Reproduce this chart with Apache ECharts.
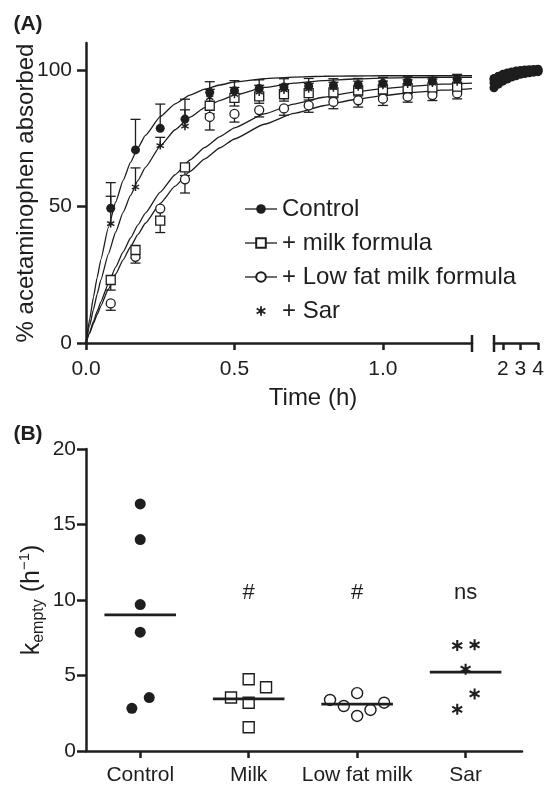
<!DOCTYPE html>
<html><head><meta charset="utf-8">
<script src="https://cdn.jsdelivr.net/npm/echarts@6/dist/echarts.min.js"></script>
<style>html,body{margin:0;padding:0;background:#fff}#c{width:544px;height:786px}</style>
</head><body><div id="c"></div>
<script>
const FONT = '"Liberation Sans", Arial, Helvetica, sans-serif';
const INK = '#1e1e1e';

// ---------- Panel A data ----------
const timesA = [0.0833, 0.1667, 0.25, 0.3333, 0.4167, 0.5, 0.5833, 0.6667, 0.75, 0.8333, 0.9167, 1.0, 1.0833, 1.1667, 1.25];
const controlA = [49.4, 70.8, 78.7, 82.1, 91.9, 92.5, 93.3, 93.9, 94.2, 94.4, 94.7, 95.2, 95.8, 96.0, 96.7];
const controlErr = [9.4, 11.2, 8.9, 7.3, 3.9, 3.7, 3.2, 3.0, 2.8, 2.5, 2.3, 2.2, 2.0, 2.0, 1.8];
const milkA = [23.1, 34.1, 44.9, 64.4, 87.0, 89.9, 90.4, 91.2, 91.6, 91.9, 92.6, 93.0, 93.4, 93.7, 94.0];
const milkErr = [3.7, 3.0, 4.4, 3.0, 3.0, 3.0, 2.5, 2.5, 2.5, 2.0, 2.0, 2.0, 2.0, 2.0, 2.0];
const lowFatA = [14.5, 31.6, 49.3, 60.0, 82.9, 84.0, 85.4, 86.0, 87.1, 88.4, 89.0, 89.6, 90.3, 90.9, 91.5];
const lowFatErr = [2.5, 2.3, 3.0, 5.0, 4.8, 3.0, 2.5, 2.5, 2.5, 2.5, 2.5, 2.5, 2.0, 2.0, 2.0];
const sarA = [43.8, 57.2, 72.4, 79.5, 90.0, 91.2, 92.0, 92.8, 93.2, 93.6, 94.0, 94.5, 95.0, 95.3, 95.8];
const sarErr = [10.0, 7.0, 3.0, 6.0, 3.0, 2.5, 2.5, 2.0, 2.0, 2.0, 2.0, 1.5, 1.5, 1.5, 1.5];

// fitted curves
const fitTimes = [0, 0.0125, 0.025, 0.0375, 0.05, 0.075, 0.1, 0.125, 0.15, 0.175, 0.2, 0.25, 0.3, 0.35, 0.4, 0.45, 0.5, 0.6, 0.7, 0.8, 0.9, 1.0, 1.1, 1.2, 1.3];
const controlFit = [0, 8.8, 16.8, 24.0, 30.6, 42.2, 51.7, 59.6, 66.2, 71.6, 76.1, 83.0, 87.7, 90.9, 93.1, 94.6, 95.7, 96.9, 97.5, 97.8, 97.9, 98.0, 98.0, 98.0, 98.0];
const sarFit = [0, 6.4, 12.3, 17.9, 23.1, 32.5, 40.7, 47.9, 54.1, 59.6, 64.4, 72.2, 78.2, 82.8, 86.3, 88.9, 90.9, 93.7, 95.3, 96.2, 96.8, 97.1, 97.3, 97.4, 97.4];
const milkFit = [0, 4.0, 7.9, 11.6, 15.1, 21.7, 27.8, 33.4, 38.5, 43.3, 47.6, 55.3, 61.7, 67.1, 71.7, 75.6, 78.9, 84.0, 87.6, 90.1, 92.0, 93.3, 94.2, 94.9, 95.3];
const lowFatFit = [0, 3.6, 7.1, 10.4, 13.6, 19.7, 25.3, 30.5, 35.3, 39.8, 43.9, 51.2, 57.5, 62.9, 67.5, 71.5, 74.8, 80.2, 84.2, 87.0, 89.2, 90.7, 91.9, 92.7, 93.3];

// late time points (2nd axis segment)
const lateTimes = [1.5, 1.75, 2, 2.25, 2.5, 2.75, 3, 3.25, 3.5, 3.75, 4];
const controlLate = [97.0, 97.8, 98.5, 99.0, 99.4, 99.7, 99.9, 100.1, 100.2, 100.3, 100.4];
const sarLate = [96.5, 97.3, 98.0, 98.6, 99.0, 99.3, 99.6, 99.8, 99.9, 100.0, 100.1];
const milkLate = [95.3, 96.3, 97.1, 97.7, 98.2, 98.6, 98.9, 99.2, 99.4, 99.5, 99.6];
const lowFatLate = [93.6, 94.9, 96.0, 96.8, 97.5, 98.0, 98.5, 98.8, 99.1, 99.3, 99.5];

const xTicksA = [0, 0.5, 1.0];
const xTicksLate = [2, 3, 4];
const yTicksA = [0, 50, 100];
const xMaxA = 1.3, xMinLate = 1.5, xMaxLate = 4, yMaxA = 110;

// ---------- Panel B data ----------
const categoriesB = ['Control', 'Milk', 'Low fat milk', 'Sar'];
const controlK = [16.36, 14.0, 9.7, 7.87, 3.54, 2.83];
const controlOff = [0, 0, 0, 0, 0.083, -0.077];
const milkK = [4.75, 4.22, 3.54, 3.2, 1.57];
const milkOff = [0, 0.16, -0.163, 0, 0];
const lowFatK = [3.38, 2.98, 3.83, 2.32, 2.72, 3.2];
const lowFatOff = [-0.25, -0.123, 0, 0, 0.123, 0.249];
const sarK = [6.98, 7.03, 5.42, 3.78, 2.76];
const sarOff = [-0.077, 0.083, 0, 0.083, -0.077];
const mediansB = [9.02, 3.45, 3.1, 5.22];
const annotIdx = [1, 2, 3];
const annotText = ['#', '#', 'ns'];
const annotLevel = 10.5;

// ---------- helpers ----------
const pair = (xs, ys) => xs.map((x, i) => [x, ys[i]]);
const jit = (g, off, ys) => ys.map((y, i) => [g + off[i], y]);
const STAR = 'path://M-0.9,-5L0.9,-5L0.9,5L-0.9,5Z M3.88,3.28L-4.78,-1.72L-3.88,-3.28L4.78,1.72Z M-3.88,3.28L-4.78,1.72L3.88,-3.28L4.78,-1.72Z';

function errSeries(times, vals, errs, dir) {
  return {
    type: 'custom', xAxisIndex: 0, yAxisIndex: 0, silent: true, z: 3,
    encode: { x: 0, y: 1 },
    data: times.map((t, i) => [t, vals[i], errs[i]]),
    renderItem(params, api) {
      const t = api.value(0), v = api.value(1), e = api.value(2);
      const p0 = api.coord([t, v]);
      const p1 = api.coord([t, v + dir * e]);
      return { type: 'group', children: [
        { type: 'line', shape: { x1: p0[0], y1: p0[1], x2: p1[0], y2: p1[1] }, style: { stroke: INK, lineWidth: 1.3 } },
        { type: 'line', shape: { x1: p1[0] - 5, y1: p1[1], x2: p1[0] + 5, y2: p1[1] }, style: { stroke: INK, lineWidth: 1.3 } }
      ]};
    }
  };
}
function capSeries(xi, yi, x) {
  return {
    type: 'custom', xAxisIndex: xi, yAxisIndex: yi, silent: true, z: 5,
    data: [[x, 0]],
    renderItem(params, api) {
      const c = api.coord([api.value(0), api.value(1)]);
      return { type: 'line', shape: { x1: c[0], y1: c[1] - 8, x2: c[0], y2: c[1] + 9 }, style: { stroke: INK, lineWidth: 2.5 } };
    }
  };
}
function fitSeries(ys) {
  return { type: 'line', xAxisIndex: 0, yAxisIndex: 0, data: pair(fitTimes, ys), showSymbol: false, smooth: 0.15, smoothMonotone: 'x',
    lineStyle: { color: INK, width: 1.3 }, silent: true, z: 2 };
}
function dataSeries(name, ys, symbol, filled, size) {
  return { name, type: 'line', xAxisIndex: 0, yAxisIndex: 0, data: pair(timesA, ys), symbol, symbolSize: size,
    showAllSymbol: true, lineStyle: { opacity: 0, color: INK, width: 1.3 },
    itemStyle: { color: filled ? INK : '#fff', borderColor: INK, borderWidth: filled ? 0 : 1.3, opacity: 1 }, silent: true, z: 4 };
}
function lateSeries(ys) {
  return { type: 'line', xAxisIndex: 1, yAxisIndex: 1, data: pair(lateTimes, ys), symbol: 'circle', symbolSize: 9,
    lineStyle: { color: INK, width: 6 }, itemStyle: { color: INK, opacity: 1 }, silent: true, z: 4 };
}
function bSeries(data, symbol, filled, size) {
  return { type: 'scatter', xAxisIndex: 2, yAxisIndex: 2, data, symbol, symbolSize: size, silent: true, z: 4,
    itemStyle: { color: filled ? INK : '#fff', borderColor: INK, borderWidth: filled ? 0 : 1.4, opacity: 1 } };
}

const axisLine = { show: true, onZero: false, lineStyle: { color: INK, width: 2.5 } };
const tickStyle = { color: INK, width: 2.5 };
const lblStyle = { color: INK, fontFamily: FONT, fontSize: 21 };

const chart = echarts.init(document.getElementById('c'), null, { renderer: 'canvas' });
chart.setOption({
  animation: false,
  backgroundColor: '#fff',
  textStyle: { fontFamily: FONT, color: INK },
  grid: [
    { left: 86, top: 43, width: 386, height: 300, outerBoundsMode: 'none', containLabel: false },
    { left: 494, top: 43, width: 44, height: 300, outerBoundsMode: 'none', containLabel: false },
    { left: 86, top: 449, width: 436, height: 302, outerBoundsMode: 'none', containLabel: false }
  ],
  xAxis: [
    { type: 'value', gridIndex: 0, min: 0, max: xMaxA, axisLine, splitLine: { show: false },
      axisTick: { show: true, length: 7, lineStyle: tickStyle, customValues: xTicksA },
      axisLabel: { ...lblStyle, margin: 16, customValues: xTicksA, formatter: v => v.toFixed(1) } },
    { type: 'value', gridIndex: 1, min: xMinLate, max: xMaxLate, axisLine, splitLine: { show: false },
      axisTick: { show: true, length: 7, lineStyle: tickStyle, customValues: xTicksLate },
      axisLabel: { ...lblStyle, margin: 16, customValues: xTicksLate, formatter: v => String(v) } },
    { type: 'value', gridIndex: 2, min: -0.5, max: 3.52, axisLine, splitLine: { show: false },
      axisTick: { show: true, length: 7, lineStyle: tickStyle, customValues: [0, 1, 2, 3] },
      axisLabel: { ...lblStyle, margin: 14, customValues: [0, 1, 2, 3], formatter: v => categoriesB[Math.round(v)] } }
  ],
  yAxis: [
    { type: 'value', gridIndex: 0, min: 0, max: yMaxA, axisLine, splitLine: { show: false },
      axisTick: { show: true, length: 9, lineStyle: tickStyle, customValues: yTicksA },
      axisLabel: { ...lblStyle, margin: 14, customValues: yTicksA },
      name: '% acetaminophen absorbed', nameLocation: 'middle', nameGap: 48, nameRotate: 90, nameMoveOverlap: false,
      nameTextStyle: { fontFamily: FONT, fontSize: 24, color: INK } },
    { type: 'value', gridIndex: 1, min: 0, max: yMaxA, show: false },
    { type: 'value', gridIndex: 2, min: 0, max: 20, interval: 5, axisLine, splitLine: { show: false },
      axisTick: { show: true, length: 9, lineStyle: tickStyle },
      axisLabel: { ...lblStyle, margin: 10 },
      name: '{k|k}{s|empty}{k| (h}{p|\u22121}{k|)}', nameLocation: 'middle', nameGap: 39, nameRotate: 90, nameMoveOverlap: false,
      nameTextStyle: { rich: {
        k: { fontFamily: FONT, fontSize: 25, color: INK, lineHeight: 30 },
        s: { fontFamily: FONT, fontSize: 16, color: INK, lineHeight: 15, verticalAlign: 'bottom' },
        p: { fontFamily: FONT, fontSize: 15, color: INK, lineHeight: 15, verticalAlign: 'top' }
      } } }
  ],
  legend: {
    orient: 'vertical', left: 239, top: 192, itemWidth: 32, itemHeight: 12, itemGap: 10, selectedMode: false,
    textStyle: { fontFamily: FONT, fontSize: 24, color: INK, lineHeight: 24 },
    data: [
      { name: 'Control', lineStyle: { opacity: 1, width: 1.3, color: INK } },
      { name: '+ milk formula', lineStyle: { opacity: 1, width: 1.3, color: INK } },
      { name: '+ Low fat milk formula', lineStyle: { opacity: 1, width: 1.3, color: INK } },
      { name: '+ Sar', lineStyle: { opacity: 0 } }
    ]
  },
  graphic: [
    { type: 'text', x: 28, y: 24, style: { text: '(A)', font: 'bold 21px ' + FONT, fill: INK, align: 'center', verticalAlign: 'middle' } },
    { type: 'text', x: 28, y: 434, style: { text: '(B)', font: 'bold 21px ' + FONT, fill: INK, align: 'center', verticalAlign: 'middle' } },
    { type: 'text', x: 313, y: 398, style: { text: 'Time (h)', font: '24px ' + FONT, fill: INK, align: 'center', verticalAlign: 'middle' } }
  ],
  series: [
    fitSeries(controlFit), fitSeries(sarFit), fitSeries(milkFit), fitSeries(lowFatFit),
    errSeries(timesA, controlA, controlErr, 1),
    errSeries(timesA, sarA, sarErr, 1),
    errSeries(timesA, milkA, milkErr, -1),
    errSeries(timesA, lowFatA, lowFatErr, -1),
    dataSeries('+ Low fat milk formula', lowFatA, 'circle', false, 9),
    dataSeries('+ milk formula', milkA, 'rect', false, 9),
    dataSeries('Control', controlA, 'circle', true, 9),
    dataSeries('+ Sar', sarA, STAR, true, 8),
    lateSeries(lowFatLate), lateSeries(milkLate), lateSeries(sarLate), lateSeries(controlLate),
    capSeries(0, 0, xMaxA), capSeries(1, 1, xMinLate),
    // Panel B
    bSeries(jit(0, controlOff, controlK), 'circle', true, 11),
    bSeries(jit(1, milkOff, milkK), 'rect', false, 11),
    bSeries(jit(2, lowFatOff, lowFatK), 'circle', false, 11),
    bSeries(jit(3, sarOff, sarK), STAR, true, 11),
    { type: 'custom', xAxisIndex: 2, yAxisIndex: 2, silent: true, z: 5,
      data: mediansB.map((m, i) => [i, m]),
      renderItem(params, api) {
        const a = api.coord([api.value(0) - 0.33, api.value(1)]);
        const b = api.coord([api.value(0) + 0.33, api.value(1)]);
        return { type: 'line', shape: { x1: a[0], y1: a[1], x2: b[0], y2: b[1] }, style: { stroke: INK, lineWidth: 2.8 } };
      } },
    { type: 'custom', xAxisIndex: 2, yAxisIndex: 2, silent: true, z: 5,
      data: annotIdx.map(i => [i, annotLevel]),
      renderItem(params, api) {
        const c = api.coord([api.value(0), api.value(1)]);
        return { type: 'text', x: c[0], y: c[1], style: { text: annotText[params.dataIndex], font: '22px ' + FONT, fill: INK, align: 'center', verticalAlign: 'middle' } };
      } }
  ]
});
</script></body></html>
